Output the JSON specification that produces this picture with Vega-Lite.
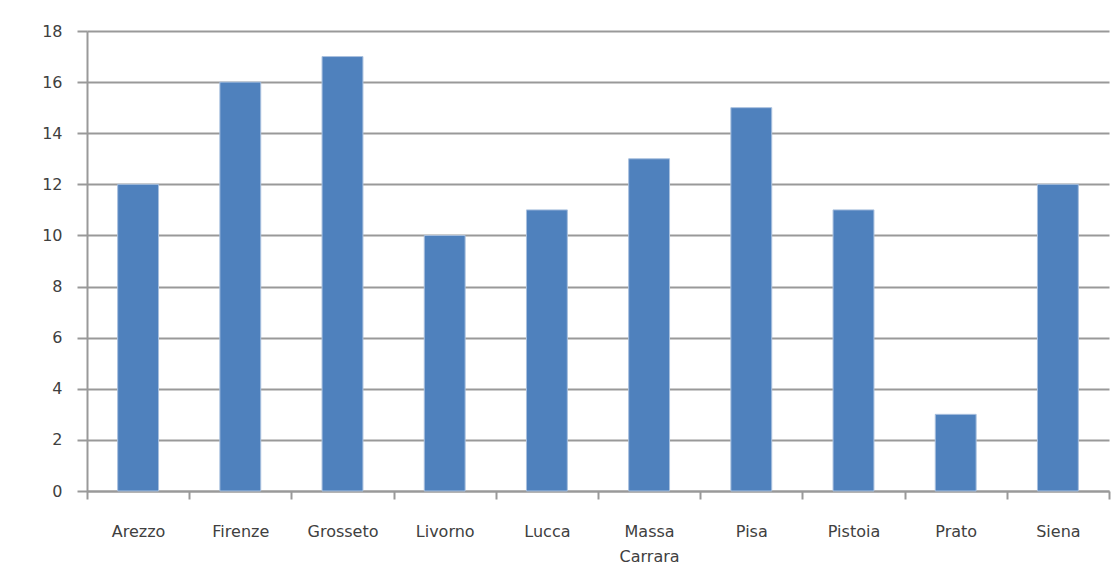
{
  "$schema": "https://vega.github.io/schema/vega-lite/v6.json",
  "autosize": {"type": "none"},
  "width": 1022,
  "height": 460,
  "padding": {"left": 87, "top": 31, "right": 9, "bottom": 89},
  "background": "white",
  "data": {"values": [
    {"provincia": "Arezzo", "valore": 12},
    {"provincia": "Firenze", "valore": 16},
    {"provincia": "Grosseto", "valore": 17},
    {"provincia": "Livorno", "valore": 10},
    {"provincia": "Lucca", "valore": 11},
    {"provincia": "Massa Carrara", "valore": 13},
    {"provincia": "Pisa", "valore": 15},
    {"provincia": "Pistoia", "valore": 11},
    {"provincia": "Prato", "valore": 3},
    {"provincia": "Siena", "valore": 12}
  ]},
  "mark": {"type": "bar", "color": "#4F81BD", "stroke": "#A9C0DE", "strokeWidth": 1, "width": {"band": 0.4}},
  "encoding": {
    "x": {
      "field": "provincia", "type": "nominal", "sort": null,
      "scale": {"paddingInner": 0, "paddingOuter": 0},
      "axis": {
        "title": null, "labelAngle": 0, "tickBand": "extent",
        "labelExpr": "split(datum.label, ' ')",
        "labelPadding": 24, "tickSize": 8, "tickWidth": 2, "tickColor": "#999999",
        "domainColor": "#999999", "domainWidth": 2,
        "labelFont": "DejaVu Sans", "labelFontSize": 16, "labelColor": "#404040",
        "labelLineHeight": 25, "grid": false
      }
    },
    "y": {
      "field": "valore", "type": "quantitative",
      "scale": {"domain": [0, 18], "nice": false},
      "axis": {
        "title": null, "values": [0, 2, 4, 6, 8, 10, 12, 14, 16, 18],
        "tickSize": 10, "tickWidth": 2, "tickColor": "#999999",
        "grid": true, "gridColor": "#999999", "gridWidth": 2,
        "domainColor": "#999999", "domainWidth": 2,
        "labelPadding": 15, "labelFont": "DejaVu Sans", "labelFontSize": 16,
        "labelColor": "#404040"
      }
    }
  },
  "config": {"view": {"stroke": null}}
}
